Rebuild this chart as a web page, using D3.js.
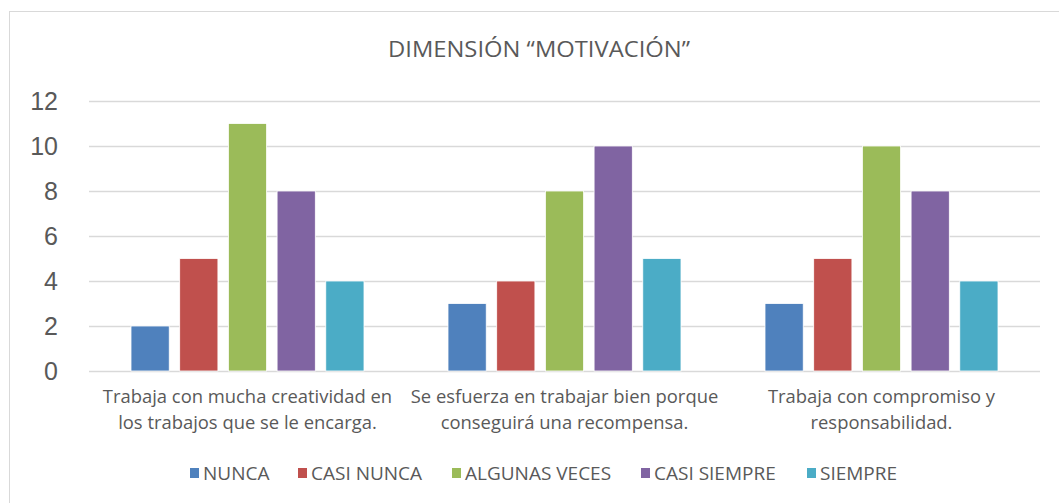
<!DOCTYPE html>
<html>
<head>
<meta charset="utf-8">
<script src="https://cdn.jsdelivr.net/npm/d3@7"></script>
<style>
  body { margin: 0; background: #fff; }
  text { font-family: "Open Sans", "Noto Sans", sans-serif; fill: #595959; }
</style>
</head>
<body>
<svg id="chart" width="1059" height="503"></svg>
<script>
const width = 1059;
const height = 503;
const margin = { top: 101, left: 89, bottom: 132, right: 19 };
const iwidth = width - margin.left - margin.right;
const iheight = height - margin.top - margin.bottom;

// datos
const categorias = [
  ["Trabaja con mucha creatividad en", "los trabajos que se le encarga."],
  ["Se esfuerza en trabajar bien porque", "conseguirá una recompensa."],
  ["Trabaja con compromiso y", "responsabilidad."]
];
const series = ["NUNCA", "CASI NUNCA", "ALGUNAS VECES", "CASI SIEMPRE", "SIEMPRE"];
const nunca = [2, 3, 3];
const casiNunca = [5, 4, 5];
const algunasVeces = [11, 8, 10];
const casiSiempre = [8, 10, 8];
const siempre = [4, 5, 4];
const ticks = [0, 2, 4, 6, 8, 10, 12];
const colores = ["#4F81BD", "#C0504D", "#9BBB59", "#8064A2", "#4BACC6"];

const valores = [nunca, casiNunca, algunasVeces, casiSiempre, siempre];

const svg = d3.select("#chart");

// marco
svg.append("rect")
  .attr("x", 9.5).attr("y", 11.5)
  .attr("width", width + 10).attr("height", height + 10)
  .attr("fill", "none").attr("stroke", "#d9d9d9").attr("stroke-width", 1);

svg.append("text")
  .attr("x", 539).attr("y", 57)
  .attr("text-anchor", "middle")
  .style("font-size", "22px")
  .attr("textLength", 302)
  .attr("lengthAdjust", "spacingAndGlyphs")
  .text("DIMENSIÓN “MOTIVACIÓN”");

const g = svg.append("g").attr("transform", `translate(${margin.left},${margin.top})`);

const y = d3.scaleLinear().domain([0, 12]).range([iheight, 0]);

const x0 = d3.scaleBand()
  .domain(d3.range(categorias.length))
  .range([0, iwidth])
  .padding(0);

const x1 = d3.scaleBand()
  .domain(series)
  .range([42, x0.bandwidth() - 42])
  .paddingInner(0.215);

// grid
g.append("g")
  .selectAll("line")
  .data(ticks)
  .join("line")
  .attr("x1", 0).attr("x2", iwidth)
  .attr("y1", d => Math.round(y(d)) + 0.5)
  .attr("y2", d => Math.round(y(d)) + 0.5)
  .attr("stroke", "#d9d9d9").attr("stroke-width", 1.5);

// eje y
const yAxis = g.append("g")
  .call(d3.axisLeft(y).tickValues(ticks).tickSize(0).tickPadding(31));
yAxis.select(".domain").remove();
yAxis.selectAll("text")
  .style("font-size", "25px")
  .style("font-family", "'Liberation Sans', Arial, sans-serif")
  .attr("fill", "#595959");

// barras
const grupos = g.selectAll(".grupo")
  .data(categorias)
  .join("g")
  .attr("class", "grupo")
  .attr("transform", (d, i) => `translate(${x0(i)},0)`);

grupos.selectAll("rect")
  .data((d, i) => series.map((s, k) => ({ s, k, v: valores[k][i] })))
  .join("rect")
  .attr("x", d => x1(d.s))
  .attr("y", d => y(d.v))
  .attr("width", x1.bandwidth())
  .attr("height", d => iheight - y(d.v))
  .attr("fill", d => colores[d.k])
  .attr("stroke", "#fff")
  .attr("stroke-width", 0.8);

// etiquetas de categoria
grupos.append("text")
  .attr("x", x0.bandwidth() / 2)
  .attr("y", iheight + 32)
  .attr("text-anchor", "middle")
  .style("font-size", "18.4px")
  .selectAll("tspan")
  .data(d => d)
  .join("tspan")
  .attr("x", x0.bandwidth() / 2)
  .attr("dy", (d, i) => i === 0 ? 0 : 26)
  .text(d => d);

// leyenda
const leyendaX = [190, 298, 452, 641, 807];
const leyenda = svg.append("g").attr("transform", "translate(0,473)");
const items = leyenda.selectAll("g")
  .data(series)
  .join("g")
  .attr("transform", (d, i) => `translate(${leyendaX[i]},0)`);
items.append("rect")
  .attr("x", 0).attr("y", -5)
  .attr("width", 9).attr("height", 10)
  .attr("fill", (d, i) => colores[i]);
items.append("text")
  .attr("x", 13).attr("y", 7)
  .style("font-size", "19px")
  .text(d => d);
</script>
</body>
</html>
